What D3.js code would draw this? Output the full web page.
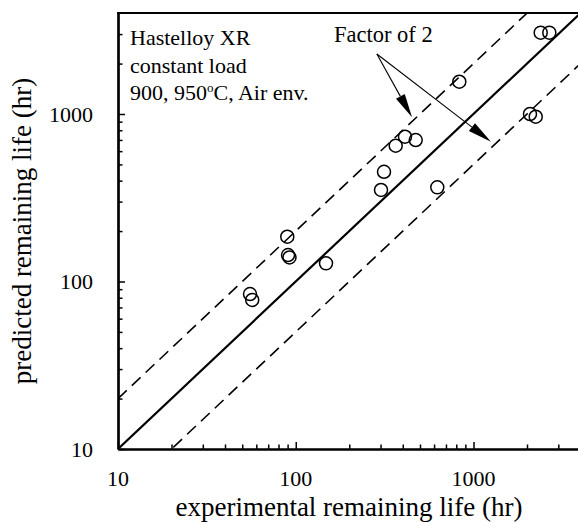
<!DOCTYPE html>
<html>
<head>
<meta charset="utf-8">
<script src="https://cdn.jsdelivr.net/npm/d3@7"></script>
<style>
  html, body { margin: 0; padding: 0; background: #fff; }
  svg { display: block; }
  text { font-family: "Liberation Serif", "Times New Roman", serif; fill: #000; }
</style>
</head>
<body>
<svg id="chart" width="578" height="522"></svg>
<script>
// ---- data ----
const experimental = [55.3, 56.9, 89.6, 90.5, 92.2, 148, 301.8, 313.7, 365, 411.7, 473, 625.6, 832, 2079, 2239, 2388, 2670];
const predicted    = [84.2, 77.6, 185.1, 143.9, 139.1, 128.4, 351.8, 452, 646.7, 731.8, 699, 365, 1559, 1000, 963, 3058, 3058];
const majorTicks = [10, 100, 1000];
const majorLabels = ["10", "100", "1000"];
const minorTicks = [20, 30, 40, 50, 60, 70, 80, 90, 200, 300, 400, 500, 600, 700, 800, 900, 2000, 3000];
const refFactors = [1, 2, 0.5];
const noteLines = ["Hastelloy XR", "constant load", "900, 950"];
const factorLabel = "Factor of 2";
const arrowApex = [286, 2281];
const arrowTips = [[451, 955], [1254, 683]];
const xTitle = "experimental remaining life (hr)";
const yTitle = "predicted remaining life (hr)";

// ---- layout ----
const svg = d3.select("#chart");
const mLeft = 118, mTop = 13, mBottom = 449;
const domain = [10, 4000];
const x = d3.scaleLog().domain(domain).range([mLeft, mLeft + 177.75 * Math.log10(400)]);
const y = d3.scaleLog().domain(domain).range([mBottom, mBottom - 167.5 * Math.log10(400)]);
const mRight = x(4000);

svg.append("clipPath").attr("id", "clip")
  .append("rect").attr("x", mLeft).attr("y", mTop).attr("width", mRight - mLeft).attr("height", mBottom - mTop);

// reference lines
const plot = svg.append("g").attr("clip-path", "url(#clip)");
refFactors.forEach(f => {
  plot.append("line")
    .attr("x1", x(10)).attr("y1", y(10 * f))
    .attr("x2", x(4000)).attr("y2", y(4000 * f))
    .attr("stroke", "#000")
    .attr("stroke-width", f === 1 ? 2.2 : 1.6)
    .attr("stroke-dasharray", f === 1 ? null : "12,7");
});

// points
plot.selectAll("circle.pt").data(experimental.map((e, i) => [e, predicted[i]]))
  .enter().append("circle")
  .attr("class", "pt")
  .attr("cx", d => x(d[0])).attr("cy", d => y(d[1]))
  .attr("r", 6.5)
  .attr("fill", "none").attr("stroke", "#000").attr("stroke-width", 1.5);

// axes (ticks only)
function styleAxis(g) {
  g.selectAll("path.domain").attr("stroke", "#000").attr("stroke-width", 2.2);
  g.selectAll(".tick line").attr("stroke", "#000").attr("stroke-width", 1.5);
  g.selectAll(".tick text").remove();
}
styleAxis(svg.append("g").attr("transform", `translate(0,${mBottom})`)
  .call(d3.axisBottom(x).tickValues(majorTicks).tickSize(-7).tickSizeOuter(0)));
styleAxis(svg.append("g").attr("transform", `translate(0,${mBottom})`)
  .call(d3.axisBottom(x).tickValues(minorTicks).tickSize(-4.5).tickSizeOuter(0)));
styleAxis(svg.append("g").attr("transform", `translate(${mLeft},0)`)
  .call(d3.axisLeft(y).tickValues(majorTicks).tickSize(-7).tickSizeOuter(0)));
styleAxis(svg.append("g").attr("transform", `translate(${mLeft},0)`)
  .call(d3.axisLeft(y).tickValues(minorTicks).tickSize(-4.5).tickSizeOuter(0)));

// tick labels
svg.append("g").selectAll("text").data(majorTicks).enter().append("text")
  .attr("x", d => x(d)).attr("y", 486)
  .attr("text-anchor", "middle").style("font-size", "22px")
  .text((d, i) => majorLabels[i]);
svg.append("g").selectAll("text").data(majorTicks).enter().append("text")
  .attr("x", 93).attr("y", d => y(d) + 7.5)
  .attr("text-anchor", "end").style("font-size", "22px")
  .text((d, i) => majorLabels[i]);

// top frame
svg.append("line").attr("x1", mLeft - 1).attr("y1", mTop).attr("x2", mRight).attr("y2", mTop)
  .attr("stroke", "#000").attr("stroke-width", 2.2);
svg.append("line").attr("x1", mRight).attr("y1", mTop).attr("x2", mRight).attr("y2", mBottom)
  .attr("stroke", "#000").attr("stroke-width", 2.2);

// axis titles
svg.append("text").attr("x", 349).attr("y", 516)
  .attr("text-anchor", "middle").style("font-size", "27px").text(xTitle);
svg.append("text").attr("transform", `translate(31,231) rotate(-90)`)
  .attr("text-anchor", "middle").style("font-size", "27px").text(yTitle);

// note text
const note = svg.append("g").style("font-size", "22px");
noteLines.forEach((t, i) => {
  const tx = note.append("text").attr("x", 130).attr("y", 45 + i * 27.5).text(t);
  if (i === 2) {
    tx.append("tspan").attr("dy", -8).style("font-size", "13px").text("o");
    tx.append("tspan").attr("dy", 8).text("C, Air env.");
  }
});

// factor label + arrows
svg.append("text").attr("x", 334).attr("y", 41.7).style("font-size", "22.5px").text(factorLabel);
const A = [x(arrowApex[0]), y(arrowApex[1])];
arrowTips.forEach(t => {
  const T = [x(t[0]), y(t[1])];
  const dx = T[0] - A[0], dy = T[1] - A[1];
  const len = Math.hypot(dx, dy);
  const u = [dx / len, dy / len], n = [-u[1], u[0]];
  const L = 24, w = 5;
  const B = [T[0] - u[0] * L, T[1] - u[1] * L];
  svg.append("line").attr("x1", A[0]).attr("y1", A[1]).attr("x2", B[0]).attr("y2", B[1])
    .attr("stroke", "#000").attr("stroke-width", 1.1);
  svg.append("path")
    .attr("d", `M${T[0]},${T[1]}L${B[0] + n[0] * w},${B[1] + n[1] * w}L${B[0] - n[0] * w},${B[1] - n[1] * w}Z`)
    .attr("fill", "#000");
});
</script>
</body>
</html>
